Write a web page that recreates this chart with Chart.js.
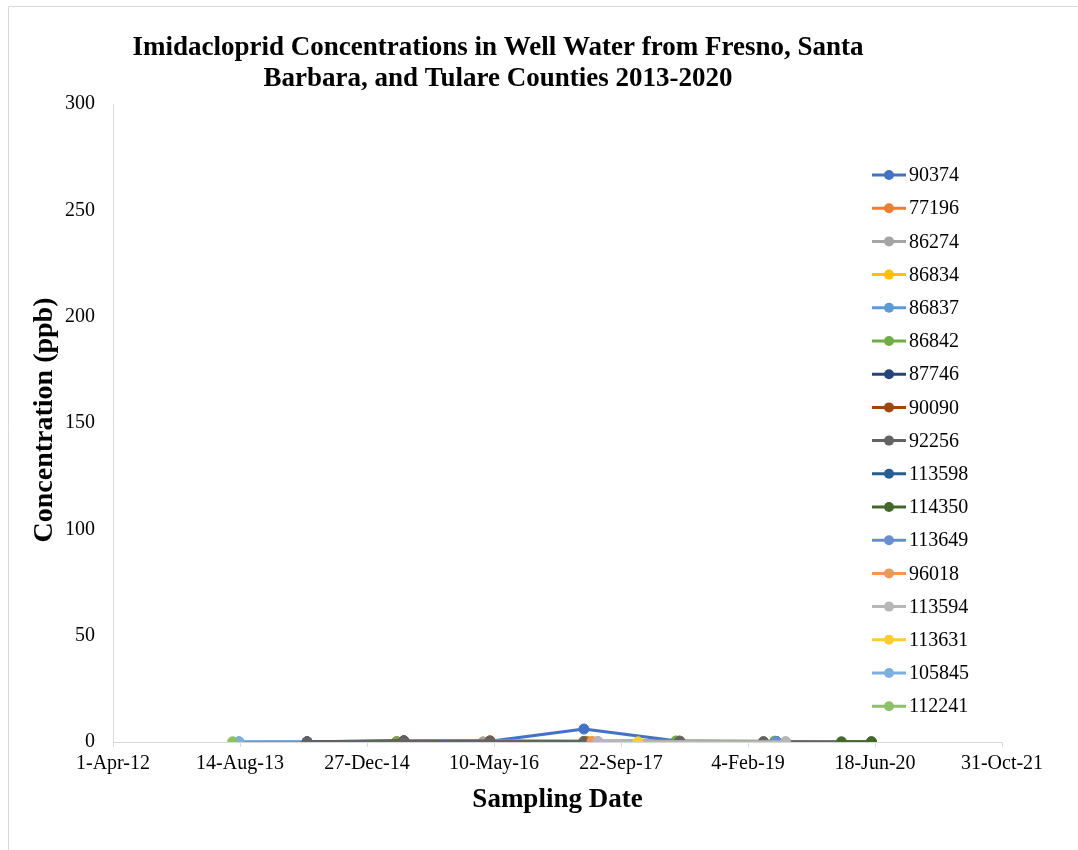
<!DOCTYPE html>
<html>
<head>
<meta charset="utf-8">
<title>Imidacloprid Concentrations</title>
<script src="https://cdn.jsdelivr.net/npm/chart.js@4.4.1/dist/chart.umd.min.js"></script>
<style>
  body { margin: 0; background: #fff; }
  #wrap { width: 1078px; height: 850px; }
</style>
</head>
<body>
<div id="wrap"><canvas id="imidChart" width="1078" height="850"></canvas></div>
<script>
/* data ------------------------------------------------------------- */

var wellIds = ['90374', '77196', '86274', '86834', '86837', '86842', '87746', '90090',
  '92256', '113598', '114350', '113649', '96018', '113594', '113631', '105845', '112241'];

var sampleDates = [
  ['2014-05-05', '2015-05-21', '2016-04-24', '2017-04-29', '2018-05-11', '2019-05-27'],
  ['2015-04-23', '2016-04-24', '2017-05-10', '2018-05-11'],
  ['2016-03-28', '2017-06-23', '2019-07-02'],
  ['2016-04-24', '2018-05-11'],
  ['2013-08-10', '2016-04-24', '2019-05-27'],
  ['2015-04-23', '2017-04-29', '2018-04-26', '2019-05-20'],
  ['2014-05-05', '2015-05-21'],
  ['2015-05-21', '2016-04-24'],
  ['2014-05-05', '2015-05-21', '2016-04-24', '2017-04-29', '2018-05-11', '2019-04-06', '2020-06-04'],
  ['2019-05-27'],
  ['2020-02-07', '2020-06-04'],
  ['2019-05-27'],
  ['2017-05-31'],
  ['2017-06-23', '2019-07-02'],
  ['2017-11-28'],
  ['2013-08-10'],
  ['2013-07-16']
];

var concentrations = [
  [0.1, 0.5, 0.3, 6.1, 0.3, 0.2],
  [0.2, 0.6, 0.3, 0.4],
  [0.1, 0.2, 0.1],
  [0.4, 0.3],
  [0.1, 0.2, 0.2],
  [0.1, 0.3, 0.5, 0.4],
  [0.1, 0.6],
  [0.3, 0.5],
  [0.1, 0.3, 0.3, 0.2, 0.4, 0.2, 0.1],
  [0.2],
  [0.1, 0.1],
  [0.2],
  [0.3],
  [0.2, 0.1],
  [0.1],
  [0.1],
  [0.1]
];

var seriesColors = ['#4472C4', '#ED7D31', '#A5A5A5', '#FFC000', '#5B9BD5', '#70AD47', '#264478',
  '#9E480E', '#636363', '#255E91', '#43682B', '#698ED0', '#F1975A', '#B7B7B7', '#FFCD33',
  '#7CAFDD', '#8CC168'];

// x axis in Excel date serials: 41000 = 1-Apr-12, 44500 = 31-Oct-21
var xMin = 41000, xMax = 44500, xStep = 500;
var yMin = 0, yMax = 300, yStep = 50;

/* ------------------------------------------------------------------ */

var MONTHS = ['Jan','Feb','Mar','Apr','May','Jun','Jul','Aug','Sep','Oct','Nov','Dec'];
var EXCEL_EPOCH = Date.UTC(1899, 11, 30);

function toSerial(iso) {
  var p = iso.split('-');
  return Math.round((Date.UTC(+p[0], +p[1] - 1, +p[2]) - EXCEL_EPOCH) / 86400000);
}
function serialLabel(s) {
  var d = new Date(EXCEL_EPOCH + s * 86400000);
  return d.getUTCDate() + '-' + MONTHS[d.getUTCMonth()] + '-' + String(d.getUTCFullYear()).slice(2);
}

var serif = "'Liberation Serif', 'Times New Roman', serif";

var datasets = wellIds.map(function (id, i) {
  return {
    label: id,
    data: sampleDates[i].map(function (d, j) { return { x: toSerial(d), y: concentrations[i][j] }; }),
    borderColor: seriesColors[i],
    backgroundColor: seriesColors[i],
    borderWidth: 3,
    pointRadius: 5,
    pointBorderWidth: 1,
    pointHoverRadius: 5,
    order: wellIds.length - i
  };
});

var decor = {
  id: 'decor',
  beforeDraw: function (chart) {
    var c = chart.ctx;
    c.save();
    c.fillStyle = '#fff';
    c.fillRect(0, 0, chart.width, chart.height);
    c.strokeStyle = '#D9D9D9';
    c.lineWidth = 1;
    c.beginPath();
    c.moveTo(8.5, chart.height);
    c.lineTo(8.5, 6.5);
    c.lineTo(chart.width, 6.5);
    c.stroke();
    c.restore();
  },
  afterDraw: function (chart) {
    var c = chart.ctx, area = chart.chartArea;
    c.save();
    c.fillStyle = '#000';
    c.textAlign = 'center';
    c.textBaseline = 'middle';
    // chart title
    c.font = 'bold 27px ' + serif;
    c.fillText('Imidacloprid Concentrations in Well Water from Fresno, Santa', 498, 48);
    c.fillText('Barbara, and Tulare Counties 2013-2020', 498, 79);
    // axis titles
    c.font = 'bold 28px ' + serif;
    c.save();
    c.translate(45, 420);
    c.rotate(-Math.PI / 2);
    c.fillText('Concentration (ppb)', 0, 0);
    c.restore();
    c.font = 'bold 27px ' + serif;
    c.fillText('Sampling Date', (area.left + area.right) / 2, 800);
    // legend
    c.font = '20px ' + serif;
    c.textAlign = 'left';
    chart.data.datasets.forEach(function (ds, i) {
      var y = 175 + i * 33.2;
      c.strokeStyle = ds.borderColor;
      c.lineWidth = 3;
      c.beginPath();
      c.moveTo(872, y);
      c.lineTo(906, y);
      c.stroke();
      c.fillStyle = ds.backgroundColor;
      c.beginPath();
      c.arc(889, y, 5, 0, Math.PI * 2);
      c.fill();
      c.fillStyle = '#000';
      c.fillText(ds.label, 909, y + 1);
    });
    c.restore();
  }
};

var chart = new Chart(document.getElementById('imidChart'), {
  type: 'line',
  data: { datasets: datasets },
  options: {
    responsive: false,
    animation: false,
    layout: { padding: { top: 104, right: 76, bottom: 0, left: 0 } },
    plugins: {
      legend: { display: false },
      tooltip: { enabled: false }
    },
    scales: {
      x: {
        type: 'linear',
        min: xMin,
        max: xMax,
        afterFit: function (s) { s.height = 108; },
        afterBuildTicks: function (s) {
          var t = [];
          for (var v = xMin; v <= xMax; v += xStep) t.push({ value: v });
          s.ticks = t;
        },
        ticks: {
          color: '#000',
          font: { family: serif, size: 20 },
          padding: 5,
          maxRotation: 0,
          autoSkip: false,
          callback: function (v) { return serialLabel(v); }
        },
        grid: { display: true, drawOnChartArea: false, tickLength: 5, color: '#D9D9D9' },
        border: { color: '#D9D9D9', width: 1 }
      },
      y: {
        min: yMin,
        max: yMax,
        afterFit: function (s) { s.width = 113; },
        ticks: {
          stepSize: yStep,
          color: '#000',
          font: { family: serif, size: 20 },
          padding: 18
        },
        grid: { display: false, drawTicks: false },
        border: { color: '#D9D9D9', width: 1 }
      }
    }
  },
  plugins: [decor]
});
</script>
</body>
</html>
